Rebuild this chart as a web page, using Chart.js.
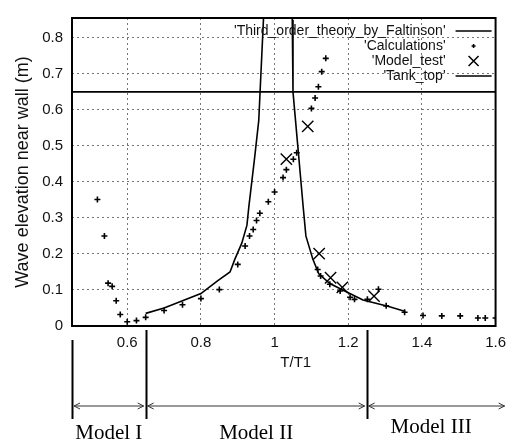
<!DOCTYPE html>
<html>
<head>
<meta charset="utf-8">
<script src="https://cdn.jsdelivr.net/npm/chart.js@4.4.0/dist/chart.umd.min.js"></script>
<style>
  html, body { margin: 0; padding: 0; background: #fff; }
</style>
</head>
<body>
<canvas id="myChart" width="514" height="444"></canvas>
<script>
// theory curve (Faltinsen 3rd order), peak runs off the top of the plot
var theoryT = [0.65, 0.70, 0.75, 0.80, 0.845, 0.879, 0.892, 0.911, 0.925, 0.93, 0.945, 0.957, 0.962, 0.970, 0.978, 0.99, 1.03,
               1.042, 1.048, 1.05, 1.063, 1.077, 1.085, 1.104, 1.12, 1.15, 1.185, 1.24, 1.31, 1.355];
var theoryH = [0.035, 0.05, 0.07, 0.09, 0.125, 0.15, 0.185, 0.23, 0.28, 0.33, 0.46, 0.57, 0.68, 0.855, 1.05, 1.2, 1.2,
               1.05, 0.85, 0.65, 0.50, 0.338, 0.25, 0.185, 0.145, 0.118, 0.10, 0.072, 0.054, 0.04];

var calcT = [0.519, 0.538, 0.548, 0.559, 0.57, 0.581, 0.60, 0.625, 0.65, 0.70, 0.75, 0.80, 0.85, 0.90, 0.92, 0.932, 0.942,
             0.951, 0.96, 0.983, 1.0, 1.023, 1.032, 1.051, 1.06, 1.10, 1.11, 1.119, 1.128, 1.139, 1.117, 1.125, 1.15,
             1.178, 1.205, 1.217, 1.252, 1.282, 1.303, 1.353, 1.403, 1.454, 1.504, 1.552, 1.572, 1.60];
var calcH = [0.351, 0.25, 0.119, 0.11, 0.07, 0.032, 0.012, 0.015, 0.024, 0.043, 0.059, 0.076, 0.101, 0.171, 0.222, 0.25, 0.268,
             0.293, 0.313, 0.345, 0.372, 0.412, 0.434, 0.463, 0.481, 0.604, 0.633, 0.664, 0.706, 0.743, 0.157, 0.139, 0.116,
             0.097, 0.08, 0.074, 0.074, 0.102, 0.056, 0.038, 0.029, 0.028, 0.028, 0.022, 0.022, 0.022];

var testT = [1.032, 1.09, 1.121, 1.152, 1.184, 1.27];
var testH = [0.463, 0.554, 0.201, 0.134, 0.107, 0.083];

var tankTop = 0.65;

var xTicks = [0.6, 0.8, 1, 1.2, 1.4, 1.6];
var yTicks = [0, 0.1, 0.2, 0.3, 0.4, 0.5, 0.6, 0.7, 0.8];
var xMin = 0.45, xMax = 1.6, yMin = 0, yMax = 0.855;

var legendLabels = ["'Third_order_theory_by_Faltinson'", "'Calculations'", "'Model_test'", "'Tank_top'"];
var modelNames = ['Model I', 'Model II', 'Model III'];
var modelEdges = [0.45, 0.65, 1.25, 1.63];

function pts(xs, ys) {
    return xs.map(function (x, i) { return { x: x, y: ys[i] }; });
}

Chart.defaults.font.family = "'Liberation Sans', Arial, sans-serif";
Chart.defaults.color = '#111';

var extras = {
    id: 'extras',
    afterDraw: function (chart) {
        var ctx = chart.ctx, a = chart.chartArea, xs = chart.scales.x;
        ctx.save();

        // plot frame
        ctx.strokeStyle = '#000';
        ctx.lineWidth = 2;
        ctx.strokeRect(a.left, a.top, a.right - a.left, a.bottom - a.top);

        // legend (text right aligned, sample on the right)
        ctx.font = "14px 'Liberation Sans', Arial, sans-serif";
        ctx.fillStyle = '#111';
        ctx.textAlign = 'right';
        ctx.textBaseline = 'middle';
        var tx = a.right - 50, s0 = a.right - 40, s1 = a.right - 4, sc = (s0 + s1) / 2;
        var rows = [a.top + 13, a.top + 28, a.top + 43, a.top + 58];
        legendLabels.forEach(function (lab, i) {
            ctx.fillText(lab, tx, rows[i]);
        });
        ctx.lineWidth = 1.5;
        ctx.beginPath();
        ctx.moveTo(s0, rows[0]); ctx.lineTo(s1, rows[0]);
        ctx.moveTo(s0, rows[3]); ctx.lineTo(s1, rows[3]);
        ctx.moveTo(sc - 2, rows[1]); ctx.lineTo(sc + 2, rows[1]);
        ctx.moveTo(sc, rows[1] - 2); ctx.lineTo(sc, rows[1] + 2);
        ctx.moveTo(sc - 5, rows[2] - 5); ctx.lineTo(sc + 5, rows[2] + 5);
        ctx.moveTo(sc + 5, rows[2] - 5); ctx.lineTo(sc - 5, rows[2] + 5);
        ctx.stroke();

        // axis titles
        ctx.textAlign = 'center';
        ctx.font = "15px 'Liberation Sans', Arial, sans-serif";
        ctx.fillText('T/T1', (a.left + a.right) / 2 + 12, a.bottom + 37);
        ctx.save();
        ctx.translate(23, 172);
        ctx.rotate(-Math.PI / 2);
        ctx.font = "18px 'Liberation Sans', Arial, sans-serif";
        ctx.fillText('Wave elevation near wall (m)', 0, 0);
        ctx.restore();

        // model ranges under the axis
        var px = modelEdges.map(function (v) { return xs.getPixelForValue(v); });
        var ay = a.bottom + 80;
        ctx.strokeStyle = '#000';
        ctx.lineWidth = 2;
        ctx.beginPath();
        [0, 1, 2].forEach(function (i) {
            var x = Math.round(px[i]) + 0.5;
            ctx.moveTo(x, a.bottom + (i === 0 ? 14 : 4));
            ctx.lineTo(x, a.bottom + 93);
        });
        ctx.stroke();
        ctx.lineWidth = 1;
        ctx.strokeStyle = '#333';
        for (var i = 0; i < 3; i++) {
            var l = px[i] + 2, r = px[i + 1] - 2;
            ctx.beginPath();
            ctx.moveTo(l, ay); ctx.lineTo(r, ay);
            ctx.moveTo(l + 6, ay - 3); ctx.lineTo(l, ay); ctx.lineTo(l + 6, ay + 3);
            ctx.moveTo(r - 6, ay - 3); ctx.lineTo(r, ay); ctx.lineTo(r - 6, ay + 3);
            ctx.stroke();
        }
        ctx.font = "21px 'Liberation Serif', 'Times New Roman', serif";
        ctx.fillStyle = '#000';
        ctx.textBaseline = 'alphabetic';
        var ends = [px[1], px[2], xs.getPixelForValue(xMax)];
        modelNames.forEach(function (n, i) {
            ctx.fillText(n, (px[i] + ends[i]) / 2, a.bottom + (i === 2 ? 107 : 113));
        });
        ctx.restore();
    }
};

const ctx = document.getElementById('myChart');
new Chart(ctx, {
    type: 'scatter',
    data: {
        datasets: [
            {
                label: legendLabels[0],
                data: pts(theoryT, theoryH),
                showLine: true,
                borderColor: '#000',
                borderWidth: 1.6,
                pointRadius: 0,
                tension: 0
            },
            {
                label: legendLabels[1],
                data: pts(calcT, calcH),
                pointStyle: 'cross',
                pointRadius: 3,
                borderColor: '#000',
                borderWidth: 1.6
            },
            {
                label: legendLabels[2],
                data: pts(testT, testH),
                pointStyle: 'crossRot',
                pointRadius: 8,
                borderColor: '#000',
                borderWidth: 1.4
            },
            {
                label: legendLabels[3],
                data: pts([xMin, xMax], [tankTop, tankTop]),
                showLine: true,
                borderColor: '#000',
                borderWidth: 1.6,
                pointRadius: 0
            }
        ]
    },
    options: {
        responsive: false,
        animation: false,
        events: [],
        layout: { padding: { top: 7, right: 12, left: 0, bottom: 0 } },
        plugins: {
            legend: { display: false },
            tooltip: { enabled: false }
        },
        scales: {
            x: {
                type: 'linear',
                min: xMin,
                max: xMax,
                afterBuildTicks: function (s) { s.ticks = xTicks.map(function (v) { return { value: v }; }); },
                afterFit: function (s) { s.height = 118; },
                ticks: {
                    padding: 8,
                    maxRotation: 0,
                    font: { size: 15 },
                    color: '#111',
                    callback: function (v) { return String(v); }
                },
                grid: { color: '#777', lineWidth: 1, drawTicks: false },
                border: { display: false, dash: [2, 3] }
            },
            y: {
                type: 'linear',
                min: yMin,
                max: yMax,
                afterBuildTicks: function (s) { s.ticks = yTicks.map(function (v) { return { value: v }; }); },
                afterFit: function (s) { s.width = 72; },
                ticks: {
                    padding: 9,
                    font: { size: 15 },
                    color: '#111',
                    callback: function (v) { return String(v); }
                },
                grid: { color: '#777', lineWidth: 1, drawTicks: false },
                border: { display: false, dash: [2, 3] }
            }
        }
    },
    plugins: [extras]
});
</script>
</body>
</html>
